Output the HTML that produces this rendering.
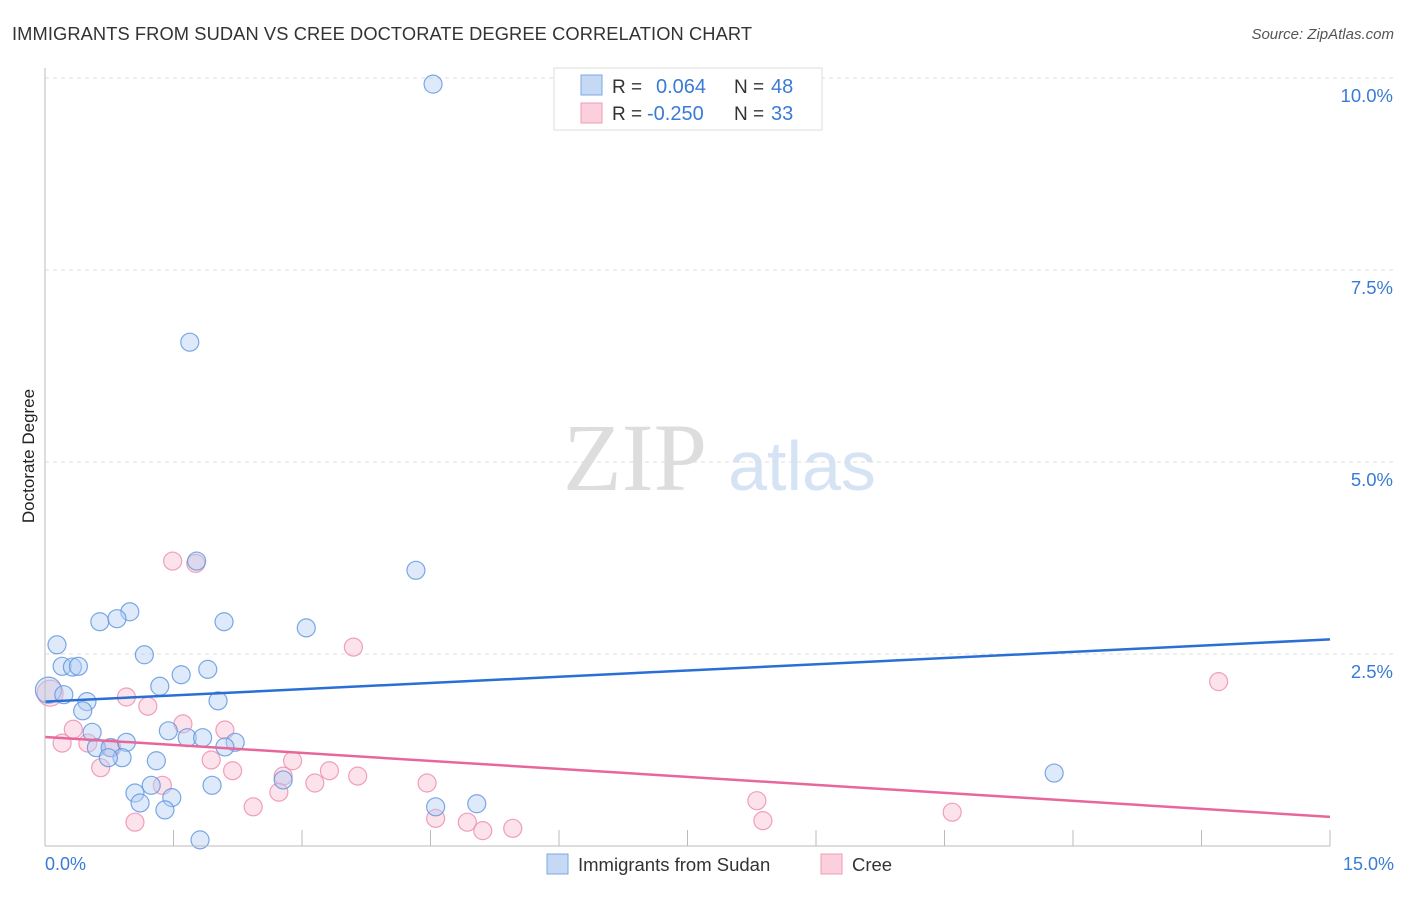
<!DOCTYPE html>
<html><head><meta charset="utf-8"><style>
body{margin:0;background:#fff;font-family:"Liberation Sans",sans-serif;}
</style></head><body>
<svg width="1406" height="892" xmlns="http://www.w3.org/2000/svg" id="chart" font-family="Liberation Sans, sans-serif">
<text x="12" y="40" font-size="18.3" fill="#333" textLength="740">IMMIGRANTS FROM SUDAN VS CREE DOCTORATE DEGREE CORRELATION CHART</text>
<text x="1394" y="39" font-size="15" fill="#555" text-anchor="end" font-style="italic">Source: ZipAtlas.com</text>
<text x="34" y="456" font-size="17" fill="#222" text-anchor="middle" transform="rotate(-90 34 456)">Doctorate Degree</text>
<text x="635" y="490" font-size="96" fill="#ddd" font-family="Liberation Serif, serif" text-anchor="middle">ZIP</text>
<text x="802" y="490" font-size="70" fill="#d5e3f5" text-anchor="middle">atlas</text>
<g id="grid"></g>
<g id="marks"></g>
<line x1="45" y1="68" x2="45" y2="846" stroke="#bbb"/>
<line x1="45" y1="846" x2="1330" y2="846" stroke="#bbb"/>
<text x="45" y="870" font-size="18" fill="#3a7bd5">0.0%</text>
<text x="1394" y="870" font-size="18" fill="#3a7bd5" text-anchor="end">15.0%</text>
<g>
<rect x="554" y="68" width="268" height="62" fill="#fff" stroke="#ddd"/>
<rect x="581" y="75" width="21" height="20" fill="#c5d9f5" stroke="#7aa7e6"/>
<rect x="581" y="103" width="21" height="20" fill="#fbd0dc" stroke="#f09ab5"/>
<text x="612" y="93" font-size="19" fill="#333">R =</text>
<text x="656" y="93" font-size="20" fill="#3a7bd5">0.064</text>
<text x="734" y="93" font-size="19" fill="#333">N =</text>
<text x="771" y="93" font-size="20" fill="#3a7bd5">48</text>
<text x="612" y="120" font-size="19" fill="#333">R =</text>
<text x="647" y="120" font-size="20" fill="#3a7bd5">-0.250</text>
<text x="734" y="120" font-size="19" fill="#333">N =</text>
<text x="771" y="120" font-size="20" fill="#3a7bd5">33</text>
</g>
<g>
<rect x="547" y="854" width="21" height="20" fill="#c5d9f5" stroke="#7aa7e6"/>
<text x="578" y="871" font-size="18.5" fill="#333">Immigrants from Sudan</text>
<rect x="821" y="854" width="21" height="20" fill="#fbd0dc" stroke="#f09ab5"/>
<text x="852" y="871" font-size="18.5" fill="#333">Cree</text>
</g>
</svg>
<script>
const yTicks=[2.5,5.0,7.5,10.0];
const yTickLabels=["2.5%","5.0%","7.5%","10.0%"];
const xTicks=[1.5,3,4.5,6,7.5,9,10.5,12,13.5,15];
const sudanX=[4.53,1.69,1.77,4.33,0.99,0.64,0.84,2.09,3.05,0.14,1.16,0.20,0.32,0.39,1.90,1.59,1.34,0.04,0.22,0.49,2.02,0.44,1.44,0.55,1.66,1.84,2.22,0.95,0.60,0.76,0.90,1.30,0.74,2.10,1.95,1.24,1.05,1.48,1.11,1.40,2.78,4.56,5.04,11.78,1.81];
const sudanY=[9.92,6.56,3.71,3.59,3.05,2.92,2.96,2.92,2.84,2.62,2.49,2.34,2.33,2.34,2.30,2.23,2.08,2.03,1.97,1.88,1.89,1.76,1.50,1.48,1.41,1.41,1.35,1.35,1.28,1.28,1.15,1.11,1.15,1.29,0.79,0.79,0.69,0.63,0.56,0.47,0.86,0.51,0.55,0.95,0.08];
const creeX=[1.49,1.76,3.60,13.70,0.95,1.20,0.06,1.61,2.10,0.33,0.20,0.50,0.78,0.65,1.94,2.89,2.19,1.37,3.32,3.65,2.78,3.15,2.73,4.46,2.43,1.05,8.31,8.38,4.56,4.93,5.11,5.46,10.59];
const creeY=[3.71,3.68,2.59,2.14,1.94,1.82,1.99,1.59,1.51,1.52,1.34,1.34,1.28,1.02,1.12,1.11,0.98,0.79,0.98,0.91,0.91,0.82,0.70,0.82,0.51,0.31,0.59,0.33,0.36,0.31,0.20,0.23,0.44];
const sudanTrend=[1.88,2.69];
const creeTrend=[1.42,0.38];
const NS="http://www.w3.org/2000/svg";
const X=v=>45+v/15*1285;
const Y=v=>846-v/2.5*192;
const grid=document.getElementById('grid'),marks=document.getElementById('marks');
function mk(tag,attrs,parent){const e=document.createElementNS(NS,tag);for(const k in attrs)e.setAttribute(k,attrs[k]);parent.appendChild(e);return e;}
yTicks.forEach((t,i)=>{
  const l=mk('line',{x1:45,x2:1393,y1:Y(t),y2:Y(t),stroke:'#ddd','stroke-dasharray':'4 4'},grid);
  
  
  const tx=mk('text',{x:1393,y:Y(t)+24,'font-size':18.5,fill:'#3a7bd5','text-anchor':'end'},grid);
  tx.textContent=yTickLabels[i];
  
  
});
xTicks.forEach(t=>{
  const l=mk('line',{x1:X(t),x2:X(t),y1:830,y2:846,stroke:'#bbb'},grid);
  
  
});
function pts(xs,ys,fill,stroke,name){
  xs.forEach((x,i)=>{
    const big=(x<0.1);
    const c=mk('circle',{cx:X(x),cy:Y(ys[i]),r:big?13:9,fill:fill,'fill-opacity':0.45,stroke:stroke,'stroke-width':1.2,'stroke-opacity':0.8},marks);
    
    
  });
}
pts(creeX,creeY,'#f8bfd0','#ee8aab','cree-point');
pts(sudanX,sudanY,'#b5cff2','#5b93e0','sudan-point');
const t1=mk('line',{x1:X(0),y1:Y(sudanTrend[0]),x2:X(15),y2:Y(sudanTrend[1]),stroke:'#2a6fd6','stroke-width':2.5},marks);


const t2=mk('line',{x1:X(0),y1:Y(creeTrend[0]),x2:X(15),y2:Y(creeTrend[1]),stroke:'#e8679a','stroke-width':2.5},marks);


</script>
</body></html>
